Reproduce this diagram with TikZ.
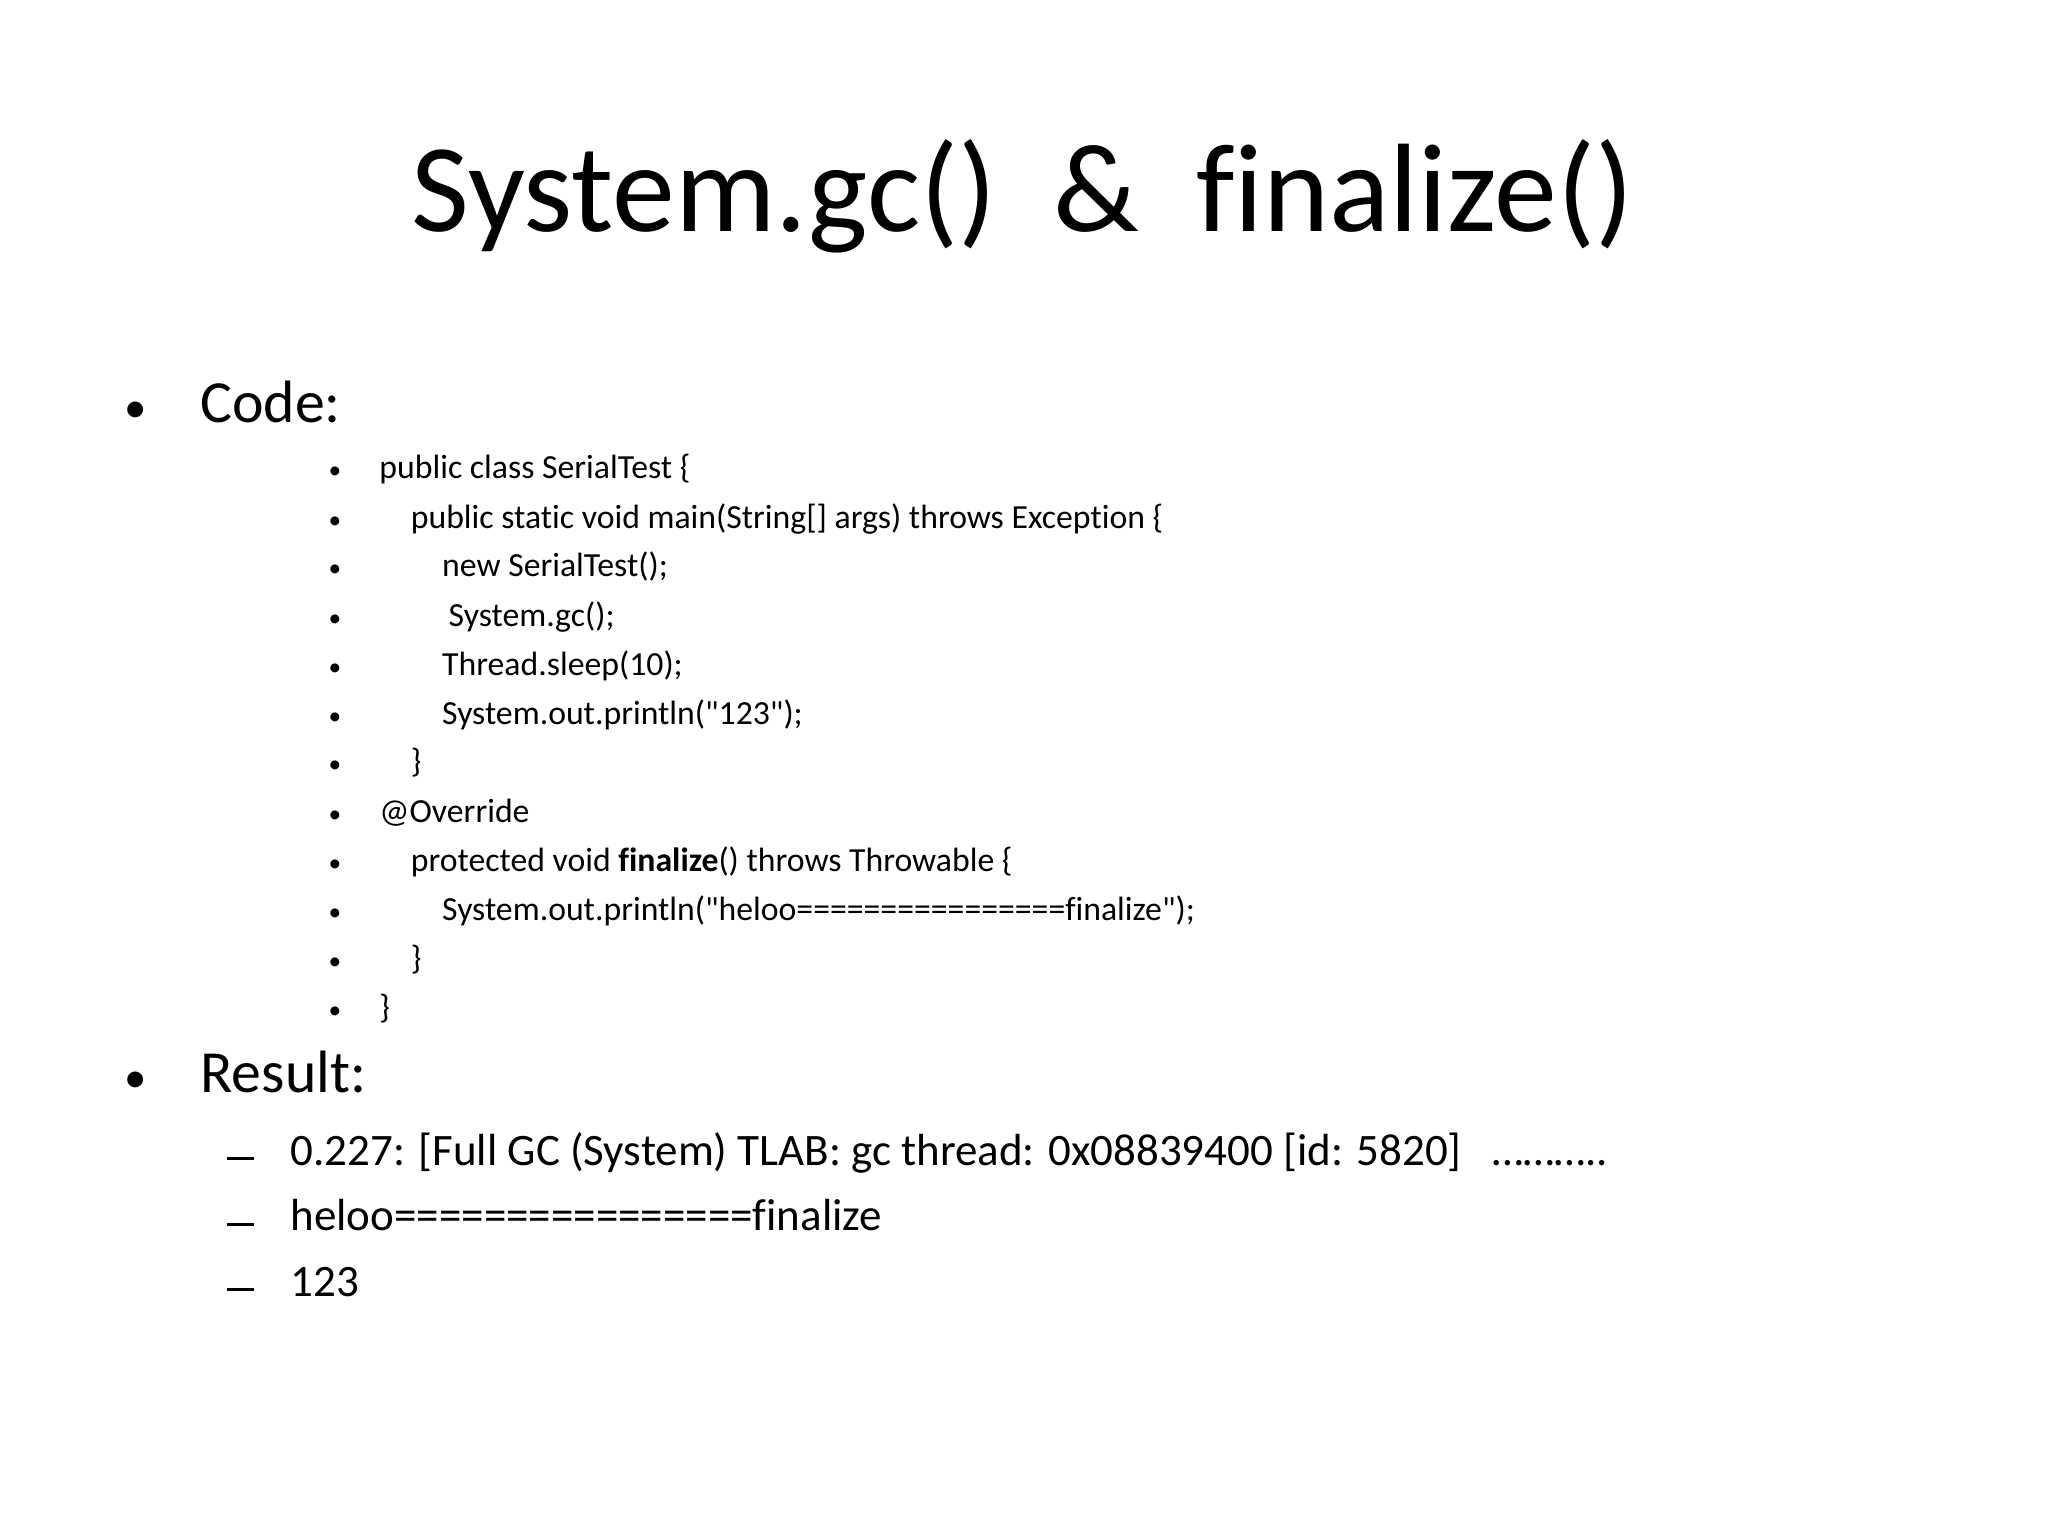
\documentclass[tikz,border=0pt]{standalone}
\usepackage{fontspec}
\setmainfont{Carlito}[Ligatures={TeXOff,NoCommon}]
\newcommand{\smbul}{\scalebox{0.75}{•}}
\begin{document}
\begin{tikzpicture}[x=0.013061cm,y=-0.013061cm,
  t/.style={anchor=mid west,inner sep=0pt},
  code/.style={t,font=\fontsize{9.6pt}{12pt}\selectfont},
  big/.style={t,font=\fontsize{17pt}{20pt}\selectfont},
  res/.style={t,font=\fontsize{12.8pt}{15pt}\selectfont}]
\fill[white] (0,0) rectangle (1568,1176);
\node[inner sep=0pt,font=\fontsize{35.8pt}{42pt}\selectfont] (title) at (783,150) {System.gc()\ \ \&\ \ finalize()};
\node[big] (b1) at (95,317) {\smbul};
\node[big] (code) at (153,317) {Code:};
\node[big] (b2) at (95,830) {\smbul};
\node[big] (result) at (153,830) {Result:};
\foreach \y/\x/\s [count=\i] in {
357/290/{public class SerialTest \{},
395/314/{public static void main(String[] args) throws Exception \{},
432/338/{new SerialTest();},
470/343/{System.gc();},
508/338/{Thread.sleep(10);},
545/338/{System.out.println("123");},
582/314/{\}},
620/290/{@Override},
658/314/{protected void \textbf{finalize}() throws Throwable \{},
695/338/{System.out.println("heloo================finalize");},
733/314/{\}},
770/290/{\}}}{
  \node[code] (cb\i) at (251,\y+3) {\smbul};
  \node[code] (c\i) at (\x,\y+3) {\s};
}
\foreach \y/\s [count=\i] in {
880/{0.227: [Full GC (System) TLAB: gc thread: 0x08839400 [id: 5820]\ \ \ ………..},
930/{heloo================finalize},
980/{123}}{
  \node[t] (rd\i) at (173,\y+2) {\rule{0.27cm}{0.03cm}};
  \node[res] (r\i) at (222,\y+6) {\s};
}
\end{tikzpicture}
\end{document}
